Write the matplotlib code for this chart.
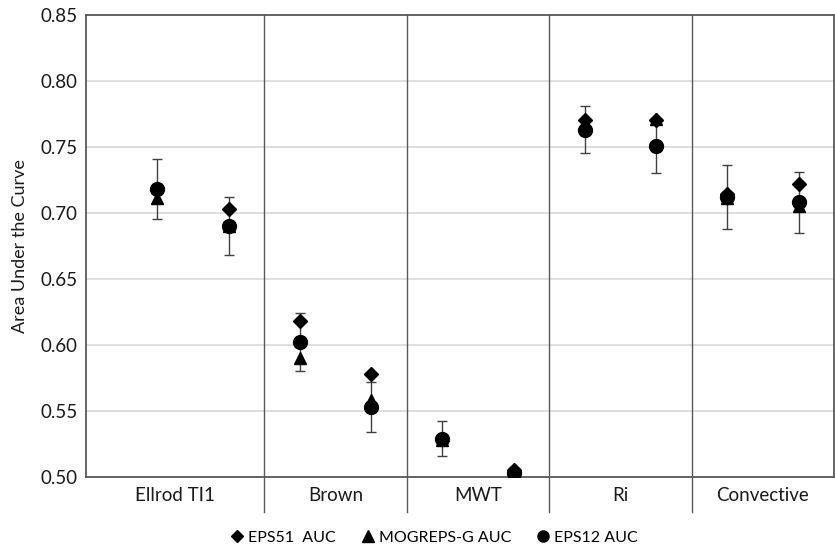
import matplotlib.pyplot as plt
from matplotlib.lines import Line2D

plt.rcParams['font.family'] = ['Lato', 'DejaVu Sans']

# two points per scheme: x positions 1,2 / 3,4 / ...
categories = ['Ellrod TI1', 'Brown', 'MWT', 'Ri', 'Convective']
x_pos = [1, 2, 3, 4, 5, 6, 7, 8, 9, 10]

eps51_auc = [0.718, 0.703, 0.618, 0.578, 0.529, 0.505, 0.770, 0.770, 0.714, 0.722]
mogreps_auc = [0.711, 0.690, 0.590, 0.558, 0.528, 0.503, 0.767, 0.771, 0.711, 0.705]
eps12_auc = [0.718, 0.690, 0.602, 0.553, 0.529, 0.503, 0.763, 0.751, 0.712, 0.708]
eps12_err = [0.023, 0.022, 0.022, 0.019, 0.013, 0.003, 0.018, 0.021, 0.024, 0.023]

dividers = [2.5, 4.5, 6.5, 8.5]
label_pos = [1.25, 3.5, 5.5, 7.5, 9.5]

AXIS_COL = '#595959'
GRID_COL = '#d9d9d9'
TEXT_COL = '#1a1a1a'


def draw_chart():
  fig = plt.figure(figsize=(8.35, 5.5), dpi=100)
  ax = fig.add_axes([0.103, 0.133, 0.896, 0.840])

  ax.set_xlim(0, 10.5)
  ax.set_ylim(0.50, 0.85)
  ax.set_yticks([0.50, 0.55, 0.60, 0.65, 0.70, 0.75, 0.80, 0.85])
  ax.set_yticklabels(['%.2f' % v for v in ax.get_yticks()])
  ax.yaxis.grid(True, color=GRID_COL, linewidth=1.2)
  ax.set_axisbelow(True)
  ax.tick_params(axis='y', length=0, labelsize=13.5, pad=6, colors=TEXT_COL)
  ax.set_xticks(label_pos)
  ax.set_xticklabels(categories)
  ax.tick_params(axis='x', length=0, labelsize=13.5, pad=7, colors=TEXT_COL)

  for side in ['left', 'bottom', 'top', 'right']:
    ax.spines[side].set_color(AXIS_COL)
    ax.spines[side].set_linewidth(1.3)

  # category separators, running a little below the axis
  for d in dividers:
    ax.axvline(d, ymin=-0.076, ymax=1, color=AXIS_COL, linewidth=1.0, clip_on=False, zorder=1)

  ax.errorbar(x_pos, eps12_auc, yerr=eps12_err, fmt='none', ecolor='#404040',
              elinewidth=1.0, capsize=3.5, capthick=1.0, zorder=2)
  ax.plot(x_pos, eps51_auc, linestyle='none', marker='D', markersize=7,
          color='black', zorder=3)
  ax.plot(x_pos, mogreps_auc, linestyle='none', marker='^', markersize=9,
          color='black', zorder=4)
  ax.plot(x_pos, eps12_auc, linestyle='none', marker='o', markersize=10,
          color='black', zorder=5)

  ax.set_ylabel('Area Under the Curve', fontsize=13, labelpad=9, color=TEXT_COL)

  handles = [
    Line2D([], [], linestyle='none', marker='D', markersize=6, color='black', label='EPS51  AUC'),
    Line2D([], [], linestyle='none', marker='^', markersize=8, color='black', label='MOGREPS-G AUC'),
    Line2D([], [], linestyle='none', marker='o', markersize=8, color='black', label='EPS12 AUC'),
  ]
  fig.legend(handles=handles, loc='center', bbox_to_anchor=(0.52, 0.022), ncol=3,
             frameon=False, fontsize=11.5, handlelength=0.8, handletextpad=0.3,
             columnspacing=1.6)

  fig.savefig('out.png', dpi=100)


def main():
  draw_chart()


if __name__ == '__main__':
  main()
